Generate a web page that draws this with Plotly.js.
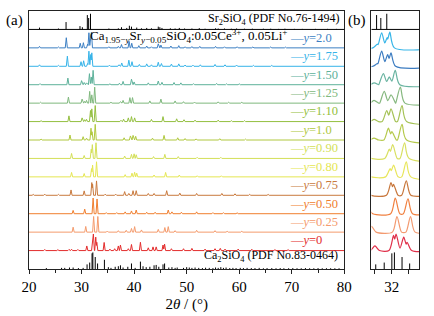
<!DOCTYPE html>
<html><head><meta charset="utf-8">
<script src="https://cdn.plot.ly/plotly-3.0.1.min.js"></script>
<style>html,body{margin:0;padding:0;background:#fff}#c{width:434px;height:316px}</style>
</head><body><div id="c"></div>
<script>
// ---- sample labels (y values) ----
const sampleLabels = ['2.0','1.75','1.50','1.25','1.10','1.0','0.90','0.80','0.75','0.50','0.25','0'];
// ---- peak positions (2theta, deg) and relative intensities ----
const pos_200 = [22.0,25.6,27.1,29.75,30.35,31.15,31.4,31.72,31.88,35.2,37.0,37.6,39.05,39.55,40.9,42.4,43.3,44.6,45.1,47.0,48.5,49.7,51.0,52.5,55.5,57.2,59.6,62.6,66.0,68.8,72.0];
const hgt_200 = [0.08,0.05,0.55,0.25,0.28,0.2,0.82,0.55,0.85,0.06,0.08,0.18,0.35,0.25,0.12,0.1,0.06,0.22,0.15,0.1,0.12,0.06,0.07,0.08,0.08,0.06,0.06,0.05,0.05,0.04,0.04];
const pos_175 = [22.0,25.6,27.3,29.9,30.4,31.15,31.4,31.75,31.95,35.3,37.1,37.65,39.0,39.6,41.0,42.4,43.3,44.6,45.2,47.1,48.5,49.7,51.2,52.6,55.4,57.3,59.5,62.7,66.2,69.0];
const hgt_175 = [0.08,0.05,0.55,0.25,0.3,0.15,0.82,0.64,0.73,0.06,0.08,0.18,0.33,0.25,0.1,0.13,0.08,0.22,0.15,0.12,0.13,0.07,0.06,0.08,0.1,0.08,0.07,0.05,0.05,0.04];
const pos_150 = [22.1,27.4,30.0,30.5,30.95,31.5,31.85,32.2,35.4,37.2,37.9,39.5,40.0,42.7,44.6,45.3,47.6,48.9,51.3,55.7,57.6,60.0,63.0];
const hgt_150 = [0.06,0.36,0.22,0.12,0.1,0.6,0.42,0.78,0.05,0.08,0.18,0.3,0.15,0.1,0.2,0.13,0.12,0.1,0.06,0.07,0.05,0.05,0.04];
const pos_125 = [22.2,27.5,30.1,30.6,30.95,31.55,31.95,32.5,35.6,37.4,37.9,39.2,39.7,43.0,45.1,47.8,49.4,51.5,56.0,58.0,60.5];
const hgt_125 = [0.05,0.33,0.22,0.1,0.15,0.64,0.45,0.87,0.05,0.08,0.15,0.3,0.3,0.12,0.22,0.12,0.08,0.06,0.07,0.05,0.05];
const pos_110 = [22.3,27.6,30.1,30.6,30.95,31.7,31.95,32.6,37.5,38.0,38.9,39.5,40.1,43.3,45.5,48.1,49.5,51.6,56.0,58.5,61.0];
const hgt_110 = [0.05,0.31,0.2,0.1,0.12,0.6,0.69,0.87,0.07,0.13,0.2,0.27,0.2,0.12,0.27,0.15,0.1,0.08,0.08,0.05,0.05];
const pos_100 = [22.3,27.8,30.3,30.95,31.8,32.0,32.6,38.1,39.3,39.8,40.3,43.5,45.7,48.3,49.7,51.8,56.3,61.2];
const hgt_100 = [0.05,0.27,0.18,0.1,0.64,0.45,0.85,0.12,0.22,0.25,0.2,0.1,0.25,0.12,0.08,0.06,0.07,0.05];
const pos_090 = [28.1,30.5,31.85,32.05,32.75,38.2,39.5,40.0,40.4,43.7,45.85,48.4,52.0,56.5];
const hgt_090 = [0.27,0.16,0.5,0.75,0.85,0.13,0.22,0.25,0.2,0.1,0.22,0.1,0.06,0.06];
const pos_080 = [28.1,30.5,31.9,32.1,32.85,38.3,39.6,40.1,40.5,43.8,46.0,48.6,52.0,56.6];
const hgt_080 = [0.24,0.18,0.45,0.64,0.82,0.12,0.2,0.25,0.2,0.1,0.24,0.1,0.06,0.06];
const pos_075 = [20.8,23.0,25.6,28.0,30.5,31.95,32.1,32.85,34.5,36.5,38.2,39.0,39.8,40.4,42.7,43.8,46.2,48.7,51.9,56.7,59.2,62.0,65.5];
const hgt_075 = [0.05,0.06,0.05,0.29,0.24,0.69,0.6,0.78,0.06,0.06,0.2,0.1,0.25,0.25,0.1,0.1,0.25,0.12,0.1,0.1,0.08,0.05,0.05];
const pos_050 = [28.4,30.6,32.2,32.95,34.7,36.7,38.3,39.5,40.4,42.4,44.0,46.5,47.2,49.0,51.9,55.0,57.0,59.6];
const hgt_050 = [0.18,0.25,0.85,0.8,0.06,0.06,0.1,0.15,0.2,0.08,0.08,0.2,0.1,0.08,0.1,0.06,0.06,0.05];
const pos_025 = [28.4,30.8,32.3,33.1,34.9,37.0,38.5,39.5,40.1,41.4,44.6,45.85,46.5,47.8,51.9,55.4,57.7,60.5];
const hgt_025 = [0.27,0.31,0.85,0.85,0.06,0.08,0.1,0.2,0.3,0.12,0.15,0.25,0.3,0.08,0.1,0.08,0.05,0.05];
const pos_000 = [23.0,25.5,27.6,28.1,29.3,31.0,32.1,32.25,32.7,32.9,34.3,35.4,36.3,37.0,37.4,38.9,39.5,41.2,42.7,43.6,44.2,45.5,45.8,47.1,49.4,51.0,53.5,55.4,56.4,57.3,59.8,62.4,66.8,69.3];
const hgt_000 = [0.06,0.05,0.06,0.07,0.06,0.25,0.82,0.9,0.73,0.45,0.44,0.08,0.1,0.25,0.3,0.1,0.33,0.45,0.15,0.2,0.2,0.3,0.35,0.1,0.1,0.12,0.08,0.1,0.12,0.08,0.08,0.07,0.05,0.05];
// ---- reference patterns (sticks) ----
const srPos = [22.0,25.6,27.05,29.7,30.15,31.1,31.35,31.7,35.2,37.0,37.6,38.6,39.1,39.5,40.5,41.4,42.4,43.3,44.6,44.9,45.3,46.9,47.8,48.6,49.6,51.0,52.4,53.5,55.5,56.0,57.2,58.5,59.5,61.0,62.5,64.6,66.0,67.5,68.7,70.5,72.0,74.5,76.8,78.5];
const srHgt = [0.1,0.05,0.4,0.18,0.12,0.78,0.62,0.85,0.05,0.06,0.12,0.08,0.2,0.15,0.1,0.06,0.08,0.06,0.15,0.12,0.08,0.06,0.05,0.08,0.05,0.05,0.07,0.04,0.06,0.05,0.05,0.04,0.05,0.04,0.04,0.04,0.04,0.03,0.04,0.03,0.03,0.03,0.03,0.03];
const caPos = [23.3,26.2,26.8,27.7,28.4,29.4,30.3,31.05,31.55,32.0,32.15,32.6,33.05,34.35,35.1,35.6,36.4,37.0,37.4,37.9,38.8,39.5,40.2,41.2,41.7,42.3,43.0,43.8,44.2,44.7,45.5,45.8,46.6,47.2,47.8,48.2,49.4,50.0,50.5,51.0,51.6,52.3,53.0,53.6,54.3,55.0,55.5,56.0,56.5,57.0,57.5,58.2,58.8,59.4,60.2,60.8,61.5,62.3,63.0,63.8,64.6,65.3,66.2,67.0,67.8,68.5,69.4,70.2,71.0,71.8,72.6,73.4,74.2,75.0,75.8,76.6,77.4,78.2,79.0];
const caHgt = [0.05,0.06,0.06,0.08,0.08,0.05,0.06,0.25,0.35,0.85,0.9,0.65,0.3,0.5,0.1,0.06,0.12,0.15,0.2,0.08,0.12,0.3,0.06,0.4,0.15,0.1,0.12,0.2,0.22,0.12,0.25,0.3,0.08,0.1,0.06,0.08,0.06,0.1,0.08,0.06,0.08,0.06,0.05,0.07,0.06,0.05,0.08,0.06,0.1,0.06,0.08,0.05,0.06,0.05,0.06,0.05,0.06,0.05,0.05,0.06,0.04,0.05,0.05,0.04,0.05,0.04,0.04,0.05,0.04,0.04,0.05,0.04,0.04,0.05,0.04,0.04,0.04,0.04,0.04];

const colorsA = ['#3c7fc3','#36b3e8','#5db19a','#7fb87d','#94bf40','#b0c83e','#d3df58','#e5e652','#c97a3e','#f07e2e','#f49b6d','#e32d2d'];
const colorsB = ['#36b5e8','#3c7cc1','#68b3a0','#86b87f','#a5c256','#b5c94b','#d9e062','#e8e65a','#c8773c','#f08040','#f39a70','#e0304a'];

const samples = [
  [pos_200,hgt_200],[pos_175,hgt_175],[pos_150,hgt_150],[pos_125,hgt_125],[pos_110,hgt_110],[pos_100,hgt_100],
  [pos_090,hgt_090],[pos_080,hgt_080],[pos_075,hgt_075],[pos_050,hgt_050],[pos_025,hgt_025],[pos_000,hgt_000]
];

function profile(pos, hgt, hw, base){
  const idx = pos.map((p,i)=>i).sort((a,b)=>pos[a]-pos[b]);
  const P = idx.map(i=>pos[i]), H = idx.map(i=>hgt[i]);
  const xs=[20], ys=[base];
  for(let k=0;k<P.length;k++){
    const p=P[k], h=H[k];
    if(k===0 || P[k-1]+hw <= p-hw){ xs.push(p-hw); ys.push(base); }
    xs.push(p); ys.push(base+h);
    if(k===P.length-1 || p+hw <= P[k+1]-hw){ xs.push(p+hw); ys.push(base); }
    else{
      const q=P[k+1], g=H[k+1];
      let x=(h*(hw+p)-g*(hw-q))/(h+g);
      x=Math.min(Math.max(x,p+0.01),q-0.01);
      const y=Math.max(h*(1-(x-p)/hw), g*(1-(q-x)/hw), 0);
      xs.push(x); ys.push(base+y);
    }
  }
  xs.push(80); ys.push(base);
  return [xs,ys];
}
function sticks(pos,hgt,base){
  const xs=[],ys=[];
  pos.forEach((p,i)=>{xs.push(p,p,null); ys.push(base,base+hgt[i],null);});
  return [xs,ys];
}

const traces=[];
const nS = samples.length;
samples.forEach((s,i)=>{
  const band = nS - i;
  const a = profile(s[0], s[1], 0.2, band);
  traces.push({x:a[0], y:a[1], xaxis:'x', yaxis:'y', mode:'lines', line:{color:colorsA[i], width:1}, hoverinfo:'skip'});
  const b = profile(s[0], s[1], 0.27, band);
  traces.push({x:b[0], y:b[1], xaxis:'x2', yaxis:'y2', mode:'lines', line:{color:colorsB[i], width:1.2, shape:'spline', smoothing:0.8}, hoverinfo:'skip'});
});
const srBase = nS + 1;
const sr = sticks(srPos, srHgt, srBase), ca = sticks(caPos, caHgt, 0);
['x','x2'].forEach((xa,j)=>{
  const ya = j? 'y2':'y';
  traces.push({x:sr[0], y:sr[1], xaxis:xa, yaxis:ya, mode:'lines', line:{color:'#000', width:1}, hoverinfo:'skip'});
  traces.push({x:ca[0], y:ca[1], xaxis:xa, yaxis:ya, mode:'lines', line:{color:'#000', width:1}, hoverinfo:'skip'});
});

const serif = '"Liberation Serif", "Times New Roman", serif';
const annotations = [];
sampleLabels.forEach((lab,i)=>{
  annotations.push({xref:'x', yref:'y', x:69.3, y:(nS-i)+0.55, xanchor:'left', yanchor:'middle', align:'left', showarrow:false,
    text:'—<i>y</i>='+lab, font:{family:serif, size:12.5, color:colorsA[i]}});
});
annotations.push({xref:'x', yref:'y', x:79.3, y:srBase+0.55, xanchor:'right', yanchor:'middle', align:'right', showarrow:false,
  text:'Sr<sub>2</sub>SiO<sub>4</sub> (PDF No.76-1494)', font:{family:serif, size:12, color:'#000'}});
annotations.push({xref:'x', yref:'y', x:79.1, y:0.68, xanchor:'right', yanchor:'middle', align:'right', showarrow:false,
  text:'Ca<sub>2</sub>SiO<sub>4</sub> (PDF No.83-0464)', font:{family:serif, size:12, color:'#000'}});
annotations.push({xref:'x', yref:'y', x:69.4, y:nS+0.62, xanchor:'right', yanchor:'middle', align:'right', showarrow:false,
  text:'Ca<sub>1.95−<i>y</i></sub>Sr<sub><i>y</i>−0.05</sub>SiO<sub>4</sub>:0.05Ce<sup>3+</sup>, 0.05Li<sup>+</sup>', font:{family:serif, size:13, color:'#000'}});
annotations.push({xref:'paper', yref:'paper', x:-0.036, y:0.965, xanchor:'center', yanchor:'middle', showarrow:false,
  text:'(a)', font:{family:serif, size:15, color:'#000'}});
annotations.push({xref:'paper', yref:'paper', x:0.841, y:0.965, xanchor:'center', yanchor:'middle', showarrow:false,
  text:'(b)', font:{family:serif, size:15, color:'#000'}});

const frame = {showline:true, mirror:true, linecolor:'#222', linewidth:1, showgrid:false, zeroline:false};
const layout = {
  width:434, height:316, margin:{l:29, r:15, t:11, b:47},
  paper_bgcolor:'#fff', plot_bgcolor:'#fff', showlegend:false,
  font:{family:serif, color:'#000'},
  xaxis:Object.assign({domain:[0,0.8085], range:[20,80], tick0:0, dtick:10, ticks:'outside', ticklen:4, tickwidth:1, tickcolor:'#222',
    minor:{dtick:5, ticks:'outside', ticklen:2.5, tickwidth:1, tickcolor:'#222'},
    tickfont:{family:serif, size:15, color:'#000'}, automargin:false,
    title:{text:'2<i>θ</i> / (°)', font:{family:serif, size:15, color:'#000'}, standoff:4}}, frame),
  yaxis:Object.assign({domain:[0,1], range:[0,14], showticklabels:false, ticks:''}, frame),
  xaxis2:Object.assign({domain:[0.8782,1], range:[30.8,33.6], anchor:'y2', tickmode:'array', tickvals:[31,32,33], ticktext:[' ','32',' '],
    ticks:'outside', ticklen:4, tickwidth:1, tickcolor:'#222', tickfont:{family:serif, size:15, color:'#000'}, automargin:false}, frame),
  yaxis2:Object.assign({domain:[0,1], range:[0,14], anchor:'x2', showticklabels:false, ticks:''}, frame),
  shapes:[
    {type:'line', xref:'x domain', yref:'y', x0:0, x1:1, y0:srBase, y1:srBase, line:{color:'#000', width:1}},
    {type:'line', xref:'x2 domain', yref:'y2', x0:0, x1:1, y0:srBase, y1:srBase, line:{color:'#000', width:1}}
  ],
  annotations:annotations
};
Plotly.newPlot('c', traces, layout, {displayModeBar:false, staticPlot:true});
</script></body></html>
